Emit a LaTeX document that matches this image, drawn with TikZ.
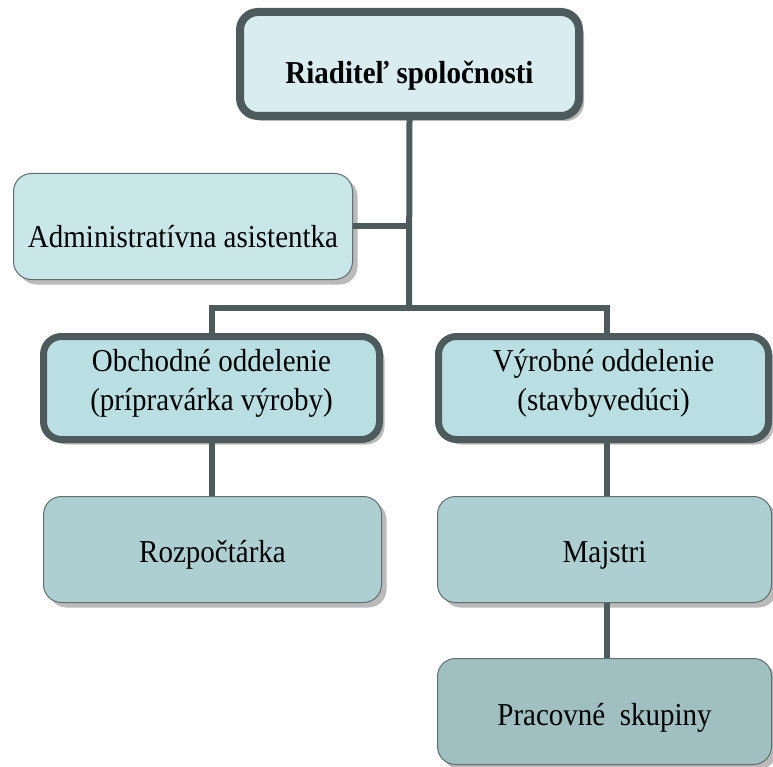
\documentclass[tikz,border=0pt]{standalone}
\usepackage{fontspec}
\usepackage{graphicx}
\setmainfont{Liberation Serif}
\usetikzlibrary{shadows}
\definecolor{edgec}{HTML}{4E5B5C}
\definecolor{thinc}{HTML}{5F6E70}
\definecolor{fdir}{HTML}{D9EDF0}
\definecolor{fadm}{HTML}{C9E6E9}
\definecolor{fdep}{HTML}{BADFE3}
\definecolor{fsub}{HTML}{ADCFD2}
\definecolor{fwrk}{HTML}{A0BFC1}
\newcommand{\boxtext}[2]{\raisebox{#1}[\height][\depth]{\scalebox{1}[1.1]{\begin{tabular}{@{}c@{}}#2\end{tabular}}}}
\tikzset{
  orgbox/.style={rectangle, rounded corners=18pt, inner sep=0pt,
    font=\fontsize{29}{35}\selectfont,
    drop shadow={shadow xshift=5pt, shadow yshift=-5pt, fill=black!27, opacity=1}},
  thickbox/.style={orgbox, draw=edgec, line width=7pt},
  thinbox/.style={orgbox, draw=thinc, line width=1pt},
  link/.style={draw=edgec, line width=6pt}
}
\begin{document}
\begin{tikzpicture}[x=1pt,y=-1pt]
\useasboundingbox (0,0) rectangle (773,767);
% boxes
\node[thickbox, line width=8pt, fill=fdir, minimum width=339pt, minimum height=104pt,
      font=\fontsize{29}{35}\selectfont\bfseries] (dir) at (409.5,64) {\boxtext{-12pt}{Riaditeľ spoločnosti}};
\node[thinbox, fill=fadm, minimum width=339pt, minimum height=106pt] (adm) at (183,226.5) {\boxtext{-13pt}{Administratívna asistentka}};
\node[thickbox, fill=fdep, minimum width=336pt, minimum height=103pt] (obch) at (211.5,388) {\boxtext{4.5pt}{Obchodné oddelenie\\(prípravárka výroby)}};
\node[thickbox, fill=fdep, minimum width=330pt, minimum height=103pt] (vyr) at (603.5,388) {\boxtext{4.5pt}{Výrobné oddelenie\\(stavbyvedúci)}};
\node[thinbox, fill=fsub, minimum width=338pt, minimum height=106pt] (rozp) at (212.5,549.5) {\boxtext{-5.3pt}{Rozpočtárka}};
\node[thinbox, fill=fsub, minimum width=334pt, minimum height=106pt] (maj) at (604.5,549.5) {\boxtext{-5.3pt}{Majstri}};
\node[thinbox, fill=fwrk, minimum width=334pt, minimum height=106pt] (prac) at (604.5,711.5) {\boxtext{-5.8pt}{Pracovné\ \ skupiny}};
% connector helpers
\coordinate (rx) at (607,0);
\coordinate (bar) at (409,308);
% connectors
\draw[link] (dir.south) -- (bar);
\draw[link] (adm.east) -- (adm.east -| dir.south);
\draw[link] (obch.north) |- (bar) -| (vyr.north -| rx);
\draw[link] (obch.south) -- (obch.south |- rozp.north);
\draw[link] (vyr.south -| rx) -- (maj.north -| rx);
\draw[link] (maj.south -| rx) -- (prac.north -| rx);
\end{tikzpicture}
\end{document}
